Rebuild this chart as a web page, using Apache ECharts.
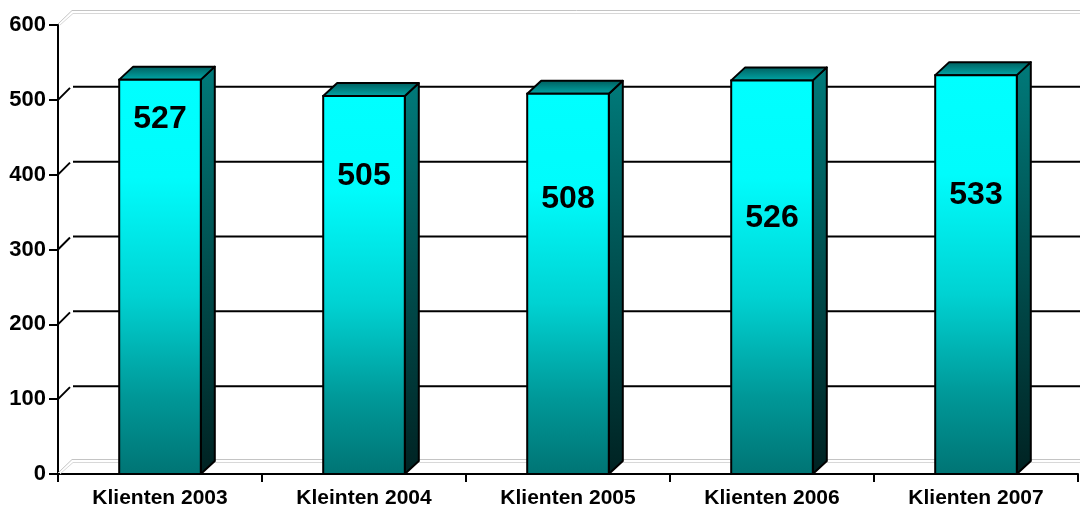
<!DOCTYPE html>
<html>
<head>
<meta charset="utf-8">
<script src="https://cdn.jsdelivr.net/npm/echarts@6/dist/echarts.min.js"></script>
<style>
html,body{margin:0;padding:0;background:#fff;}
#chart{width:1080px;height:511px;}
</style>
</head>
<body>
<div id="chart"></div>
<script>
const categories = ['Klienten 2003', 'Kleinten 2004', 'Klienten 2005', 'Klienten 2006', 'Klienten 2007'];
const values = [527, 505, 508, 526, 533];
const yTicks = [0, 100, 200, 300, 400, 500, 600];

// styling: vertical drop (px) of each value label below the bar top
const labelDrop = [40, 80, 105, 138, 120];
const DX = 14, DY = 13;
const FONT = '"Liberation Sans", Arial, sans-serif';

const chart = echarts.init(document.getElementById('chart'), null, {renderer: 'canvas'});

function gridRender(params, api) {
  const v = api.value(1);
  const cs = params.coordSys;
  const y = api.coord([0, v])[1];
  const x0 = cs.x;
  const xEnd = cs.x + cs.width + DX + 20;
  const edge = (v === yTicks[0] || v === yTicks[yTicks.length - 1]);
  if (edge) {
    return {type: 'group', children: [
      {type: 'polyline', shape: {points: [[x0, y - 1], [x0 + DX, y - DY - 1.5], [xEnd, y - DY - 1.5]]},
       style: {stroke: '#c4c4c4', lineWidth: 1, fill: null}},
      {type: 'polyline', shape: {points: [[x0 + 2, y], [x0 + DX + 1, y - DY + 1.5], [xEnd, y - DY + 1.5]]},
       style: {stroke: '#d8d8d8', lineWidth: 1, fill: null}}
    ]};
  }
  return {type: 'group', children: [
    {type: 'line', shape: {x1: x0, y1: y, x2: x0 + DX - 2, y2: y - DY + 1},
     style: {stroke: '#000', lineWidth: 2}},
    {type: 'line', shape: {x1: x0 + DX + 1, y1: y - DY, x2: xEnd, y2: y - DY},
     style: {stroke: '#000', lineWidth: 2}}
  ]};
}

function barRender(params, api) {
  const i = api.value(0);
  const v = api.value(1);
  const top = api.coord([i, v]);
  const base = api.coord([i, 0]);
  const band = api.size([1, 0])[0];
  const w = band * 0.40;
  const x0 = top[0] - w / 2, x1 = top[0] + w / 2;
  const ty = top[1], by = base[1];
  return {type: 'group', children: [
    {type: 'polygon', shape: {points: [[x1, ty], [x1 + DX, ty - DY], [x1 + DX, by - DY], [x1, by]]},
     style: {fill: new echarts.graphic.LinearGradient(0, 0, 0, 1, [
       {offset: 0, color: '#007a7a'}, {offset: 1, color: '#002222'}]), stroke: '#000', lineWidth: 2, lineJoin: 'round'}},
    {type: 'polygon', shape: {points: [[x0, ty], [x0 + DX, ty - DY], [x1 + DX, ty - DY], [x1, ty]]},
     style: {fill: new echarts.graphic.LinearGradient(0, 0, 0, 1, [
       {offset: 0, color: '#005c5c'}, {offset: 1, color: '#00aaaa'}]), stroke: '#000', lineWidth: 2, lineJoin: 'round'}},
    {type: 'rect', shape: {x: x0, y: ty, width: w, height: by - ty},
     style: {fill: new echarts.graphic.LinearGradient(0, 0, 0, 1, [
       {offset: 0, color: '#00ffff'}, {offset: 0.25, color: '#00fcfc'},
       {offset: 0.55, color: '#00d2d2'}, {offset: 0.8, color: '#009898'},
       {offset: 1, color: '#007474'}]), stroke: '#000', lineWidth: 2}},
    {type: 'text', style: {text: String(v), x: top[0], y: ty + labelDrop[i],
      align: 'center', verticalAlign: 'middle', fill: '#000',
      font: 'bold 32px ' + FONT}}
  ]};
}

chart.setOption({
  animation: false,
  backgroundColor: '#fff',
  grid: {left: 58, right: 2, top: 25, bottom: 37, containLabel: false},
  xAxis: {
    type: 'category', data: categories, boundaryGap: true,
    axisLine: {lineStyle: {color: '#000', width: 2}},
    axisTick: {show: true, interval: 0, length: 8, lineStyle: {color: '#000', width: 2}},
    axisLabel: {interval: 0, margin: 14, color: '#000', fontWeight: 'bold', fontSize: 21, fontFamily: FONT},
    splitLine: {show: false}
  },
  yAxis: {
    type: 'value', min: 0, max: 600, interval: 100,
    axisLine: {show: true, lineStyle: {color: '#000', width: 2}},
    axisTick: {show: true, length: 9, lineStyle: {color: '#000', width: 2}},
    axisLabel: {margin: 12, color: '#000', fontWeight: 'bold', fontSize: 22, fontFamily: FONT},
    splitLine: {show: false}
  },
  series: [
    {type: 'custom', z: 1, clip: false, renderItem: gridRender,
     data: yTicks.map(v => [0, v]), encode: {x: 0, y: 1}, silent: true},
    {type: 'custom', z: 3, clip: false, renderItem: barRender,
     data: values.map((v, i) => [i, v]), encode: {x: 0, y: 1}}
  ]
});
</script>
</body>
</html>
